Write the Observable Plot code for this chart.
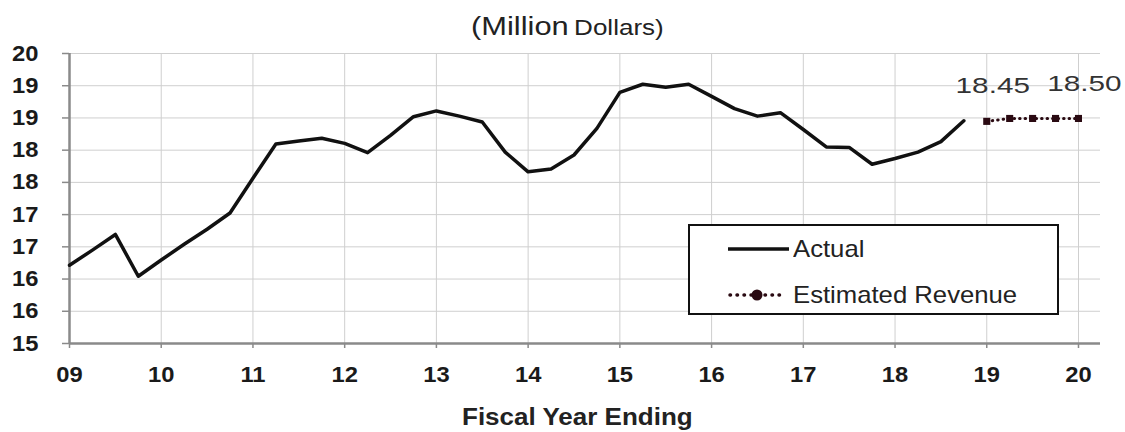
<!DOCTYPE html>
<html>
<head>
<meta charset="utf-8">
<script src="https://cdn.jsdelivr.net/npm/d3@7"></script>
<script src="https://cdn.jsdelivr.net/npm/@observablehq/plot@0.6"></script>
<style>
  html, body { margin: 0; padding: 0; background: #fff; }
  #wrap { position: relative; width: 1125px; height: 432px; font-family: "Liberation Sans", Arial, sans-serif; }
  #title { position: absolute; left: 471px; top: 12px; color: #222; white-space: nowrap; transform: scaleX(1.21); transform-origin: 0 0; }
  #title .big { font-size: 25.5px; }
  #title .small { font-size: 21.5px; }
  #xlabel { position: absolute; left: 462px; top: 404px; font-weight: bold; font-size: 23px; color: #222; white-space: nowrap; transform: scaleX(1.13); transform-origin: 0 0; }
  #legend { position: absolute; left: 688px; top: 224px; width: 367px; height: 87px; border: 2px solid #111; background: #fff; }
  .row { position: absolute; left: 0; height: 30px; display: flex; align-items: center; font-size: 24px; color: #222; white-space: nowrap; }
  .row span { display: inline-block; transform: scaleX(1.07); transform-origin: 0 50%; }
  .row svg { display: block; }
  #chart svg { display: block; }
</style>
</head>
<body>
<div id="wrap">
  <div id="chart"></div>
  <div id="title"><span class="big">(Million</span> <span class="small">Dollars)</span></div>
  <div id="xlabel">Fiscal Year Ending</div>
  <div id="legend">
    <div class="row" style="top:8px;left:38px;">
      <svg width="62" height="30"><line x1="0" y1="15" x2="61" y2="15" stroke="#111" stroke-width="3.5"/></svg>
      <span style="margin-left:3px">Actual</span>
    </div>
    <div class="row" style="top:54px;left:38px;">
      <svg width="62" height="30">
        <line x1="2" y1="15" x2="52" y2="15" stroke="#2a0a12" stroke-width="3.5" stroke-dasharray="0.5,6.5" stroke-linecap="round"/>
        <circle cx="29" cy="15" r="5.5" fill="#2a0a12"/>
      </svg>
      <span style="margin-left:3px">Estimated Revenue</span>
    </div>
  </div>
</div>
<script>
// Fiscal quarters (year fraction, two-digit years) and revenue, million dollars
const actualQuarters = [
  9, 9.25, 9.5, 9.75, 10, 10.25, 10.5, 10.75,
  11, 11.25, 11.5, 11.75, 12, 12.25, 12.5, 12.75,
  13, 13.25, 13.5, 13.75, 14, 14.25, 14.5, 14.75,
  15, 15.25, 15.5, 15.75, 16, 16.25, 16.5, 16.75,
  17, 17.25, 17.5, 17.75, 18, 18.25, 18.5, 18.75
];
const actualRevenue = [
  15.97, 16.23, 16.50, 15.78, 16.06, 16.33, 16.59, 16.87,
  17.47, 18.06, 18.11, 18.16, 18.07, 17.91, 18.21, 18.53,
  18.63, 18.54, 18.44, 17.92, 17.58, 17.63, 17.87, 18.33,
  18.95, 19.09, 19.04, 19.09, 18.88, 18.67, 18.54, 18.60,
  18.31, 18.01, 18.00, 17.71, 17.81, 17.92, 18.10, 18.46
];

const estimatedQuarters = [19, 19.25, 19.5, 19.75, 20];
const estimatedRevenue = [18.45, 18.50, 18.50, 18.50, 18.50];
const labeledQuarters = [19, 20];

const xTickYears = [9, 10, 11, 12, 13, 14, 15, 16, 17, 18, 19, 20];
const xTickLabels = ["09", "10", "11", "12", "13", "14", "15", "16", "17", "18", "19", "20"];
const yTickLabels = ["15", "16", "16", "17", "17", "18", "18", "19", "19", "20"];

const actual = actualQuarters.map((q, i) => ({q, v: actualRevenue[i]}));
const estimated = estimatedQuarters.map((q, i) => ({q, v: estimatedRevenue[i]}));
const labeled = estimated.filter(d => labeledQuarters.includes(d.q));

// Value axis: ten evenly spaced gridlines across the domain
const yDomain = [14.62, 19.62];
const yTicks = yTickLabels.map((_, i) => yDomain[0] + i * (yDomain[1] - yDomain[0]) / (yTickLabels.length - 1));
const yLabelOf = new Map(yTicks.map((t, i) => [t, yTickLabels[i]]));
const xLabelOf = new Map(xTickYears.map((t, i) => [t, xTickLabels[i]]));

const ink = "#2a0a12";
const font = "\"Liberation Sans\", Arial, sans-serif";

const chart = Plot.plot({
  width: 1125,
  height: 432,
  marginLeft: 69,
  marginRight: 25,
  marginTop: 53,
  marginBottom: 89,
  style: {fontFamily: font, background: "#fff", overflow: "visible"},
  x: {domain: [9, 20.24]},
  y: {domain: yDomain},
  marks: [
    Plot.gridX(xTickYears, {stroke: "#cfcfcf", strokeOpacity: 1, strokeWidth: 1}),
    Plot.gridY(yTicks, {stroke: "#cfcfcf", strokeOpacity: 1, strokeWidth: 1}),
    Plot.ruleY([yDomain[0]], {stroke: "#8a8a8a", strokeWidth: 2.5}),
    Plot.ruleX([9], {stroke: "#8a8a8a", strokeWidth: 2.5}),
    Plot.axisX(xTickYears, {
      tickFormat: d => xLabelOf.get(d),
      tickSize: 5, tickPadding: 18, stroke: "#8a8a8a", strokeWidth: 1.5,
      fontSize: 22, fontWeight: "bold", fill: "#1a1a1a", label: null,
      className: "tick-x"
    }),
    Plot.axisY(yTicks, {
      tickFormat: d => yLabelOf.get(d),
      tickSize: 7, tickPadding: 24, stroke: "#8a8a8a", strokeWidth: 1.5,
      fontSize: 22, fontWeight: "bold", fill: "#1a1a1a", label: null,
      className: "tick-y"
    }),
    Plot.line(actual, {x: "q", y: "v", stroke: "#111", strokeWidth: 3.5, strokeLinejoin: "round"}),
    Plot.line(estimated, {x: "q", y: "v", stroke: ink, strokeWidth: 3, strokeDasharray: "0.5,5", strokeLinecap: "round"}),
    Plot.dot(estimated, {x: "q", y: "v", symbol: "square", r: 4, fill: ink, stroke: "none"}),
    Plot.text(labeled, {
      x: "q", y: "v", text: d => d.v.toFixed(2),
      dx: 6, dy: -35, fontSize: 22, fill: "#333", lineAnchor: "middle",
      className: "value-label"
    })
  ]
});

// Stretch text horizontally around its anchor point
function widen(selection, k) {
  selection.each(function() {
    const t = this.getAttribute("transform");
    if (t) {
      this.setAttribute("transform", `${t} scale(${k},1)`);
    } else {
      const x = +this.getAttribute("x") || 0;
      const y = +this.getAttribute("y") || 0;
      this.removeAttribute("x");
      this.removeAttribute("y");
      this.setAttribute("transform", `translate(${x},${y}) scale(${k},1)`);
    }
  });
}
const svg = d3.select(chart);
widen(svg.selectAll(".value-label text"), 1.35);
widen(svg.selectAll(".tick-x text, .tick-y text"), 1.08);

document.getElementById("chart").appendChild(chart);
</script>
</body>
</html>
